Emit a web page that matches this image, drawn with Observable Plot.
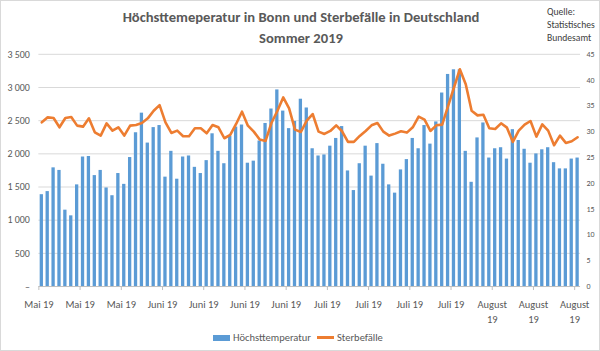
<!DOCTYPE html>
<html>
<head>
<meta charset="utf-8">
<script src="https://cdn.jsdelivr.net/npm/d3@7"></script>
<script src="https://cdn.jsdelivr.net/npm/@observablehq/plot@0.6"></script>
<style>
  html, body { margin: 0; padding: 0; background: #fff; }
  #chart { position: relative; width: 600px; height: 351px; overflow: hidden; box-sizing: border-box; border: 1px solid #d9d9d9;
           font-family: Carlito, Calibri, Lato, "Open Sans", sans-serif; color: #595959; background: #fff; }
  #chart .layer { position: absolute; left: -1px; top: -1px; }
  #title { position: absolute; left: 0; top: 6px; width: 600px; text-align: center; font-weight: bold; font-size: 14.6px; line-height: 21px; color: #595959; }
  #source { position: absolute; left: 546px; top: 5px; font-size: 9.6px; line-height: 13px; color: #404040; }
  #legend { position: absolute; left: 212px; top: 330px; display: flex; align-items: center; font-size: 10.5px; color: #595959; white-space: nowrap; }
  #legend .sw-bar { width: 17px; height: 6px; background: #5b9bd5; margin-right: 3px; }
  #legend .sw-line { width: 17px; height: 2.5px; background: #ed7d31; margin-left: 6px; margin-right: 3px; }
</style>
</head>
<body>
<div id="chart">
  <div id="title">Höchsttemeperatur in Bonn und Sterbefälle in Deutschland<br>Sommer 2019</div>
  <div id="source">Quelle:<br>Statistisches<br>Bundesamt</div>
  <div id="legend"><span class="sw-bar"></span><span>Höchsttemperatur</span><span class="sw-line"></span><span>Sterbefälle</span></div>
</div>
<script>
// ---- data (daily, 16 May 2019 – 15 Aug 2019) ----
const firstDay = "2019-05-16";
const seriesNames = ["Höchsttemperatur", "Sterbefälle"];

// Höchsttemperatur in Bonn (°C) – bars, right axis
const temps = [
  17.8, 18.4, 23.0, 22.5, 14.8, 13.7, 19.7, 25.1, 25.2, 21.5, 22.5, 19.1, 17.6, 21.9,
  19.8, 25.0, 29.8, 33.6, 27.8, 30.8, 31.2, 21.2, 26.2, 20.8, 25.1, 25.3, 23.1, 21.9,
  24.4, 29.6, 26.2, 23.8, 29.1, 30.9, 31.3, 23.9, 24.3, 28.2, 31.6, 34.4, 38.1, 34.0,
  30.6, 32.0, 36.3, 34.6, 26.7, 25.3, 25.5, 27.2, 28.7, 31.0, 22.4, 18.6, 23.8, 27.2,
  21.4, 27.7, 23.7, 19.7, 18.1, 22.6, 24.6, 28.7, 26.7, 31.2, 27.6, 31.9, 37.5, 41.1,
  42.0, 42.0, 26.2, 20.2, 28.8, 31.7, 24.9, 26.7, 26.9, 24.7, 30.4, 28.3, 26.6, 23.9,
  25.7, 26.5, 26.9, 24.0, 22.8, 22.8, 24.7, 24.9
];

// Sterbefälle in Deutschland (pro Tag) – line, left axis
const deaths = [
  2475, 2550, 2540, 2400, 2540, 2555, 2425, 2410, 2535, 2325, 2275, 2460, 2350, 2400,
  2275, 2425, 2435, 2465, 2535, 2650, 2735, 2475, 2315, 2350, 2265, 2265, 2385, 2385,
  2310, 2435, 2400, 2235, 2285, 2450, 2635, 2425, 2335, 2215, 2195, 2465, 2645, 2850,
  2685, 2365, 2330, 2500, 2600, 2335, 2300, 2345, 2430, 2340, 2180, 2180, 2270, 2345,
  2430, 2465, 2335, 2275, 2305, 2340, 2320, 2400, 2560, 2515, 2345, 2430, 2440, 2720,
  3000, 3275, 3050, 2650, 2580, 2590, 2385, 2375, 2460, 2395, 2180, 2350, 2440, 2495,
  2260, 2445, 2350, 2130, 2275, 2165, 2190, 2250
];

// x tick labels (one every 7 days)
const tickLabels = ["Mai 19", "Mai 19", "Mai 19", "Juni 19", "Juni 19", "Juni 19", "Juni 19",
  "Juli 19", "Juli 19", "Juli 19", "Juli 19", "August\n19", "August\n19", "August\n19"];
const leftTicks = [0, 500, 1000, 1500, 2000, 2500, 3000, 3500];
const rightTicks = [0, 5, 10, 15, 20, 25, 30, 35, 40, 45];

// ---- table built from the arrays ----
const start = new Date(firstDay + "T00:00:00Z");
const rows = temps.map((t, i) => ({ i, date: d3.utcDay.offset(start, i), temp: t, deaths: deaths[i] }));
const tickPos = tickLabels.map((_, k) => k * 7);

// ---- layout ----
const W = 600, H = 351;
const common = {
  width: W, height: H,
  marginLeft: 38.5, marginRight: 18, marginTop: 54, marginBottom: 64,
  style: { background: "transparent", overflow: "visible", fontFamily: "Carlito, Calibri, Lato, 'Open Sans', sans-serif", color: "#595959" },
  x: { domain: [0, rows.length], axis: null }
};
const fmtL = d => d === 0 ? "–" : d3.format(",")(d).replace(",", " ");

// layer 1: grid, left axis, x axis
const base = Plot.plot({
  ...common,
  y: { domain: [0, 3500], axis: null },
  marks: [
    Plot.gridY(leftTicks.slice(1), { stroke: "#d9d9d9", strokeOpacity: 1 }),
    Plot.ruleY([0], { stroke: "#bfbfbf" }),
    Plot.axisY(leftTicks, { anchor: "left", tickSize: 0, tickPadding: 9, tickFormat: fmtL, fontSize: 10, label: null }),
    Plot.axisX(tickPos, { anchor: "bottom", tickSize: 4, stroke: "#bfbfbf", strokeOpacity: 1, tickPadding: 6, fontSize: 10.5, lineHeight: 1.5,
      tickFormat: d => tickLabels[tickPos.indexOf(d)], label: null })
  ]
});

// layer 2: temperature bars + right axis
const bars = Plot.plot({
  ...common,
  y: { domain: [0, 45], axis: null },
  marks: [
    Plot.rectY(rows, { x1: d => d.i + 0.22, x2: d => d.i + 0.78, y: "temp", fill: "#5b9bd5" }),
    Plot.axisY(rightTicks, { anchor: "right", tickSize: 0, tickPadding: 6, fontSize: 8, label: null })
  ]
});

// layer 3: deaths line
const line = Plot.plot({
  ...common,
  y: { domain: [0, 3500], axis: null },
  marks: [
    Plot.line(rows, { x: d => d.i + 0.5, y: "deaths", stroke: "#ed7d31", strokeWidth: 2.6, strokeLinejoin: "round", strokeLinecap: "round" })
  ]
});

const chart = document.getElementById("chart");
// stacking order: grid/axes at the bottom, bars above, line on top; texts follow
[line, bars, base].forEach(svg => { svg.classList.add("layer"); chart.prepend(svg); });
</script>
</body>
</html>
